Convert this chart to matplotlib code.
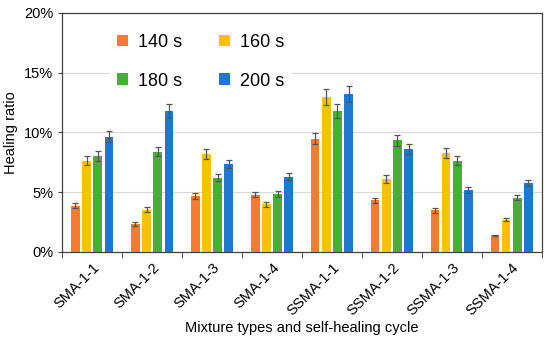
import matplotlib.pyplot as plt
import numpy as np
from matplotlib.ticker import PercentFormatter

plt.rcParams['font.family'] = ['Liberation Sans', 'DejaVu Sans']

# data
mixtures = ['SMA-1-1', 'SMA-1-2', 'SMA-1-3', 'SMA-1-4',
            'SSMA-1-1', 'SSMA-1-2', 'SSMA-1-3', 'SSMA-1-4']
cycles = ['140 s', '160 s', '180 s', '200 s']
h140 = [3.85, 2.32, 4.69, 4.77, 9.48, 4.32, 3.46, 1.37]
h160 = [7.64, 3.51, 8.20, 3.99, 12.97, 6.11, 8.26, 2.68]
h180 = [7.98, 8.37, 6.19, 4.85, 11.77, 9.32, 7.64, 4.52]
h200 = [9.65, 11.80, 7.36, 6.30, 13.20, 8.59, 5.16, 5.75]
e140 = [0.20, 0.14, 0.24, 0.22, 0.48, 0.22, 0.18, 0.07]
e160 = [0.39, 0.20, 0.40, 0.20, 0.65, 0.32, 0.40, 0.14]
e180 = [0.42, 0.39, 0.30, 0.25, 0.58, 0.45, 0.38, 0.22]
e200 = [0.46, 0.57, 0.36, 0.32, 0.66, 0.42, 0.26, 0.28]

colors = ['#F47C2C', '#FFC000', '#4AAD3B', '#1F77CF']

fig, ax = plt.subplots(figsize=(5.5, 3.38), dpi=100)
fig.subplots_adjust(left=0.113, right=0.985, top=0.962, bottom=0.255)

x = np.arange(len(mixtures))
width = 0.14
step = 0.185
series = [h140, h160, h180, h200]
errs = [e140, e160, e180, e200]
bars = []
for i in range(4):
    pos = x + (i - 1.5) * step
    b = ax.bar(pos, series[i], width, color=colors[i], label=cycles[i], zorder=3)
    bars.append(b)
    ax.errorbar(pos, series[i], yerr=errs[i], fmt='none', ecolor='#555555',
                elinewidth=0.9, capsize=2.5, capthick=0.9, zorder=4)

ax.set_xlim(-0.5, len(mixtures) - 0.5)
ax.set_ylim(0, 20)
ax.set_yticks([0, 5, 10, 15, 20])
ax.yaxis.set_major_formatter(PercentFormatter(decimals=0))
ax.set_xticks(x)
ax.set_xticklabels(mixtures, rotation=45, ha='right', rotation_mode='anchor', fontsize=10.5)
ax.set_xticks(np.arange(-0.5, len(mixtures)), minor=True)
ax.tick_params(axis='x', which='major', length=0, pad=6)
ax.tick_params(axis='x', which='minor', length=4, color='#404040')
ax.tick_params(axis='y', length=3, labelsize=10.5, color='#404040')
ax.grid(axis='y', color='#d9d9d9', linewidth=0.8, zorder=0)
for s in ax.spines.values():
    s.set_color('#404040')
    s.set_linewidth(0.9)

ax.set_ylabel('Healing ratio', fontsize=10.5)
ax.set_xlabel('Mixture types and self-healing cycle', fontsize=10.5, labelpad=2)

# row-wise legend order: 140, 160 / 180, 200
order = [0, 2, 1, 3]
leg = ax.legend([bars[k] for k in order], [cycles[k] for k in order],
                loc='upper left', bbox_to_anchor=(0.08, 0.98), ncol=2, fontsize=13,
                frameon=True, framealpha=1, edgecolor='white', handlelength=0.6,
                handleheight=0.6, columnspacing=2.0, labelspacing=1.2, handletextpad=0.6)
leg.get_frame().set_linewidth(0)

plt.savefig('out.png', dpi=100)
